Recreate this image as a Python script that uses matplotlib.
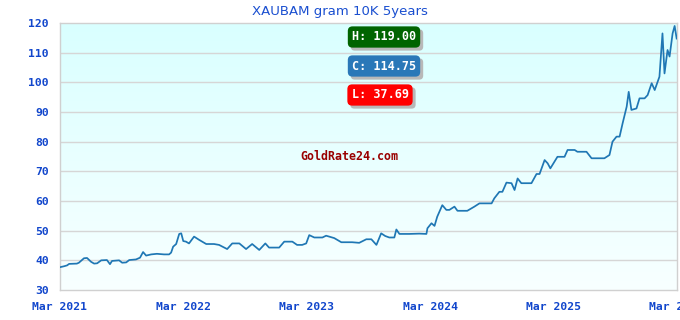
import matplotlib
matplotlib.use("Agg")
import matplotlib.pyplot as plt
import matplotlib.patches as mpatches
import numpy as np
import pandas as pd

title = "XAUBAM gram 10K 5years"
dates = [
    "2021-03-01", "2021-03-13", "2021-03-22", "2021-03-28", "2021-04-20", "2021-04-26",
    "2021-05-11", "2021-05-20", "2021-06-01", "2021-06-10", "2021-06-19", "2021-07-01",
    "2021-07-18", "2021-07-27", "2021-08-02", "2021-08-23", "2021-09-01", "2021-09-13",
    "2021-09-22", "2021-10-12", "2021-10-24", "2021-11-02", "2021-11-11", "2021-11-26",
    "2021-12-13", "2022-01-03", "2022-01-18", "2022-01-24", "2022-01-30", "2022-02-08",
    "2022-02-17", "2022-02-23", "2022-03-01", "2022-03-09", "2022-03-18", "2022-04-02",
    "2022-04-17", "2022-05-08", "2022-05-31", "2022-06-15", "2022-07-09", "2022-07-24",
    "2022-08-14", "2022-09-03", "2022-09-21", "2022-10-12", "2022-10-30", "2022-11-10",
    "2022-12-10", "2022-12-25", "2023-01-18", "2023-02-01", "2023-02-16", "2023-02-28",
    "2023-03-09", "2023-03-24", "2023-04-17", "2023-04-28", "2023-05-22", "2023-06-12",
    "2023-07-14", "2023-08-04", "2023-08-25", "2023-09-09", "2023-09-24", "2023-10-08",
    "2023-10-20", "2023-11-01", "2023-11-16", "2023-11-22", "2023-12-01", "2023-12-30",
    "2024-01-29", "2024-02-19", "2024-02-22", "2024-03-05", "2024-03-14", "2024-03-22",
    "2024-04-06", "2024-04-18", "2024-04-27", "2024-05-12", "2024-05-21", "2024-06-19",
    "2024-07-10", "2024-07-25", "2024-08-30", "2024-09-07", "2024-09-22", "2024-10-01",
    "2024-10-13", "2024-10-28", "2024-11-06", "2024-11-15", "2024-11-26", "2024-12-26",
    "2025-01-10", "2025-01-19", "2025-02-03", "2025-02-12", "2025-02-20", "2025-03-13",
    "2025-04-03", "2025-04-12", "2025-05-03", "2025-05-11", "2025-06-07", "2025-06-22",
    "2025-07-30", "2025-08-14", "2025-08-23", "2025-09-04", "2025-09-13", "2025-09-22",
    "2025-10-04", "2025-10-10", "2025-10-18", "2025-11-02", "2025-11-11", "2025-11-26",
    "2025-12-05", "2025-12-17", "2025-12-26", "2026-01-09", "2026-01-18", "2026-01-24",
    "2026-02-02", "2026-02-08", "2026-02-17", "2026-02-23", "2026-03-01",
]
values = [
    37.69, 38.0, 38.3, 38.8, 38.9, 39.2,
    40.7, 40.8, 39.5, 38.9, 39.0, 40.0,
    40.1, 38.7, 39.8, 40.0, 39.2, 39.3,
    40.1, 40.3, 40.9, 42.8, 41.6, 42.0,
    42.2, 42.0, 42.0, 42.6, 44.6, 45.5,
    48.9, 49.1, 46.5, 46.3, 45.7, 48.0,
    46.9, 45.5, 45.5, 45.2, 43.8, 45.7,
    45.7, 43.8, 45.5, 43.5, 45.7, 44.3,
    44.3, 46.3, 46.3, 45.2, 45.2, 45.7,
    48.5, 47.7, 47.7, 48.3, 47.5, 46.1,
    46.1, 45.9, 47.1, 47.1, 45.2, 49.1,
    48.2, 47.7, 47.7, 50.4, 48.9, 48.9,
    49.0, 48.9, 50.8, 52.5, 51.6, 54.7,
    58.6, 57.0, 57.0, 58.1, 56.7, 56.7,
    58.1, 59.2, 59.2, 60.9, 63.1, 63.1,
    66.2, 66.0, 63.7, 67.6, 66.0, 66.0,
    69.1, 69.1, 73.8, 72.7, 71.0, 74.9,
    74.9, 77.2, 77.2, 76.6, 76.6, 74.4,
    74.4, 75.5, 80.0, 81.7, 81.7, 86.2,
    91.8, 96.8, 90.7, 91.2, 94.6, 94.6,
    95.7, 99.7, 97.4, 101.9, 116.5, 103.0,
    110.9, 108.7, 116.5, 119.0, 114.75,
]
high_label = "H: 119.00"
current_label = "C: 114.75"
low_label = "L: 37.69"
watermark = "GoldRate24.com"
y_ticks = [30, 40, 50, 60, 70, 80, 90, 100, 110, 120]
x_tick_dates = ["2021-03-01", "2022-03-01", "2023-03-01", "2024-03-01", "2025-03-01", "2026-03-01"]
x_tick_labels = ["Mar 2021", "Mar 2022", "Mar 2023", "Mar 2024", "Mar 2025", "Mar 2026"]

x = pd.to_datetime(dates)
W, H = 680, 320
fig = plt.figure(figsize=(6.8, 3.2), dpi=100)
fig.patch.set_facecolor("white")
ax = fig.add_axes([60 / W, 30 / H, 617 / W, 267 / H])

# gradient background
grad = np.linspace(0, 1, 256).reshape(-1, 1)
top = np.array([217, 255, 255]) / 255
bot = np.array([248, 255, 255]) / 255
img = top[None, None, :] * (1 - grad[:, :, None]) + bot[None, None, :] * grad[:, :, None]
ax.imshow(img, extent=[0, 1, 0, 1], transform=ax.transAxes, aspect="auto", zorder=0)

ax.set_ylim(30, 120)
ax.set_xlim(pd.Timestamp("2021-03-01"), pd.Timestamp("2026-03-02"))

for yv in y_ticks[1:-1]:
    ax.axhline(yv, color="#d6d6d6", lw=1.0, zorder=1)

ax.plot(x, values, color="#1f77b4", lw=1.25, zorder=3)

for s in ax.spines.values():
    s.set_color("#d0d0d0")
    s.set_linewidth(1.0)

tick_color = "#1146cc"
ax.set_yticks(y_ticks)
ax.set_yticklabels([str(v) for v in y_ticks], family="DejaVu Sans Mono",
                   fontweight="bold", fontsize=8.2, color=tick_color)
ax.set_xticks(pd.to_datetime(x_tick_dates))
ax.set_xticklabels(x_tick_labels, family="DejaVu Sans Mono",
                   fontweight="bold", fontsize=8.2, color=tick_color)
ax.tick_params(axis="both", length=0)
ax.tick_params(axis="y", pad=8)
ax.tick_params(axis="x", pad=8.5)

fig.text(0.5, 1 - 11 / H, title, ha="center", va="center", fontsize=9.5,
         color="#1a4fd0", family="DejaVu Sans")

badges = []


def badge(text, cx, cy, color):
    t = fig.text(cx / W, 1 - cy / H, text, ha="center", va="center", fontsize=8.5,
                 family="DejaVu Sans Mono", fontweight="bold", color="white", zorder=5,
                 bbox=dict(boxstyle="round,pad=0.35,rounding_size=0.4", fc=color, ec="none"))
    badges.append(t)


badge(high_label, 384, 37, "#006400")
badge(current_label, 384, 66, "#2a78b8")
badge(low_label, 380, 95, "#ff0000")

# shadows behind the badges
fig.canvas.draw()
for t in badges:
    bb = t.get_bbox_patch().get_window_extent()
    sh = mpatches.FancyBboxPatch((bb.x0 + 3, bb.y0 - 3), bb.width, bb.height,
                                 boxstyle="round,pad=0,rounding_size=4",
                                 fc="#b8b8b8", ec="none", transform=None, zorder=4)
    fig.patches.append(sh)

fig.text(349 / W, 1 - 157 / H, watermark, ha="center", va="center", fontsize=8.4,
         family="DejaVu Sans Mono", fontweight="bold", color="#990000")

fig.savefig("out.png", dpi=100)
